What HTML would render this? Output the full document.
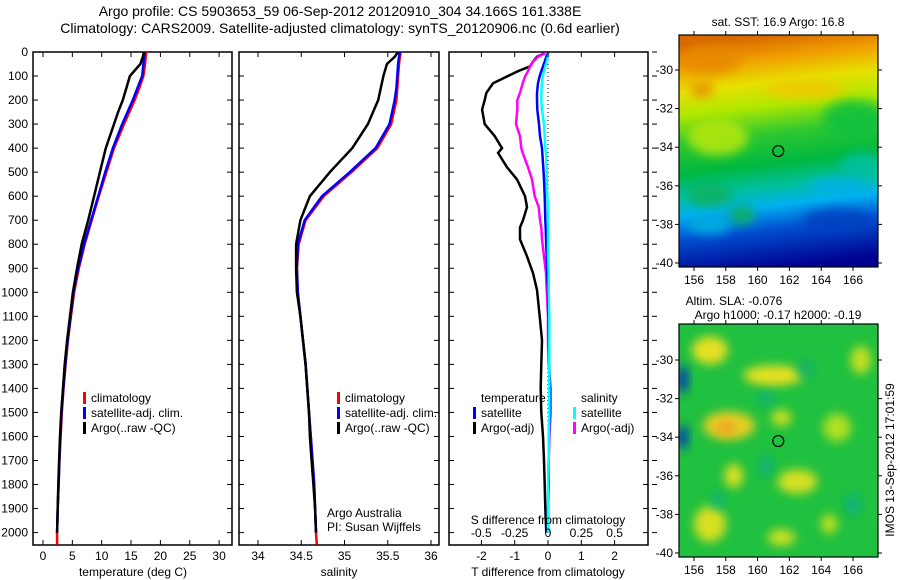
<!DOCTYPE html>
<html><head><meta charset="utf-8"><style>
body{margin:0;background:#fff;}
svg{display:block;font-family:"Liberation Sans",sans-serif;}
text{font-size:12px;fill:#000;}
text.big{font-size:14px;}
</style></head><body>
<svg id="c" width="900" height="580" viewBox="0 0 900 580" xmlns="http://www.w3.org/2000/svg">
<defs>
<clipPath id="cm1"><rect x="679" y="35" width="199" height="232"/></clipPath>
<clipPath id="cm2"><rect x="679" y="324" width="199" height="233"/></clipPath>
<linearGradient id="sstg" x1="0.45" y1="0" x2="0.55" y2="1">
<stop offset="0" stop-color="#d86a00"/><stop offset="0.1" stop-color="#f0a000"/>
<stop offset="0.2" stop-color="#e8e000"/><stop offset="0.3" stop-color="#b0e800"/>
<stop offset="0.42" stop-color="#30c830"/><stop offset="0.55" stop-color="#00b840"/>
<stop offset="0.65" stop-color="#00c0a0"/><stop offset="0.73" stop-color="#00b0f0"/>
<stop offset="0.83" stop-color="#0050d0"/><stop offset="1" stop-color="#000090"/>
</linearGradient>
<filter id="bl" x="-50%" y="-50%" width="200%" height="200%"><feGaussianBlur stdDeviation="5"/></filter>
</defs>
<g id="titles">
<text class="big" x="340" y="16" text-anchor="middle">Argo profile: CS 5903653_59 06-Sep-2012 20120910_304 34.166S 161.338E</text>
<text class="big" x="340" y="33" text-anchor="middle">Climatology: CARS2009. Satellite-adjusted climatology: synTS_20120906.nc (0.6d earlier)</text>
</g>
<g id="p1"></g><g id="p2"></g><g id="p3"></g><g id="maps"></g>
<text transform="translate(894,460) rotate(-90)" text-anchor="middle">IMOS 13-Sep-2012 17:01:59</text>
</svg>
<script>
const depths=[0,20,50,100,150,200,250,300,400,500,600,700,800,900,1000,1100,1200,1300,1400,1500,1600,1700,1800,1900,2000,2050];
const argoT=[17.2,17.0,16.6,14.8,14.2,13.6,12.8,12.1,10.7,9.7,8.7,7.7,6.6,5.8,5.1,4.6,4.1,3.7,3.4,3.1,2.9,2.75,2.6,2.5,2.4];
const satT=[17.3,17.2,17.1,16.9,16.1,15.3,14.4,13.5,11.9,10.6,9.4,8.2,7.0,6.0,5.2,4.7,4.2,3.8,3.45,3.15,2.95,2.8,2.65,2.5,2.4];
const climT=[17.6,17.5,17.4,17.1,16.4,15.6,14.7,13.8,12.1,10.8,9.5,8.3,7.1,6.1,5.3,4.75,4.25,3.85,3.5,3.2,3.0,2.8,2.65,2.5,2.4,2.4];
const argoS=[35.62,35.58,35.49,35.45,35.42,35.39,35.33,35.27,35.09,34.83,34.6,34.49,34.44,34.44,34.45,34.49,34.52,34.55,34.57,34.59,34.6,34.62,34.64,34.66,34.67];
const satS=[35.64,35.63,35.62,35.61,35.6,35.58,35.55,35.52,35.36,35.06,34.74,34.54,34.46,34.45,34.46,34.49,34.52,34.55,34.57,34.59,34.61,34.63,34.65,34.66,34.67];
const climS=[35.65,35.64,35.63,35.62,35.61,35.6,35.57,35.54,35.38,35.08,34.76,34.55,34.47,34.45,34.46,34.49,34.52,34.55,34.57,34.59,34.61,34.63,34.65,34.66,34.67,34.68];
const depths3=[5,20,40,60,80,100,130,170,200,240,300,350,400,420,480,530,600,645,700,730,780,850,920,990,1100,1200,1300,1400,1500,1600,1700,1800,1900,2000];
const argoTd=[-0.1,-0.33,-0.45,-0.54,-0.9,-1.2,-1.65,-1.85,-1.9,-1.98,-1.9,-1.6,-1.38,-1.5,-1.23,-0.93,-0.69,-0.63,-0.75,-0.84,-0.84,-0.63,-0.45,-0.33,-0.25,-0.18,-0.2,-0.22,-0.2,-0.15,-0.12,-0.1,-0.08,-0.05];
const argoSd=[-0.02,-0.075,-0.11,-0.135,-0.15,-0.17,-0.19,-0.21,-0.23,-0.23,-0.24,-0.21,-0.2,-0.19,-0.15,-0.12,-0.1,-0.07,-0.06,-0.05,-0.045,-0.03,-0.015,-0.01,0,0,0.005,0.02,0.02,0.01,0.005,0.005,0,0];
const satTd=[0,-0.05,-0.1,-0.15,-0.2,-0.25,-0.3,-0.33,-0.33,-0.32,-0.27,-0.24,-0.18,-0.17,-0.14,-0.12,-0.1,-0.09,-0.08,-0.07,-0.06,-0.04,-0.02,0,0.02,0.03,0.04,0.05,0.05,0.03,0.02,0.01,0,0];
const satSd=[0.005,0,-0.01,-0.02,-0.03,-0.04,-0.045,-0.05,-0.05,-0.045,-0.03,-0.025,-0.02,-0.015,-0.01,-0.01,-0.005,0,0,0,0,0,0.005,0.005,0.01,0.01,0.01,0.01,0.01,0.005,0.005,0,0,0];
const depthTicks=[0,100,200,300,400,500,600,700,800,900,1000,1100,1200,1300,1400,1500,1600,1700,1800,1900,2000];
const tempTicks=[0,5,10,15,20,25,30];
const salTicks=[34,34.5,35,35.5,36];
const tdTicks=[-2,-1,0,1,2];
const sdTicks=[-0.5,-0.25,0,0.25,0.5];
const sdTickLabels=["-0.5","-0.25","0","0.25","0.5"];

const NS="http://www.w3.org/2000/svg";
function mk(parent,tag,attrs,txt){const e=document.createElementNS(NS,tag);for(const k in attrs)e.setAttribute(k,attrs[k]);if(txt!==undefined)e.textContent=txt;parent.appendChild(e);return e;}
const TOP=52,BOT=545;
const yD=d=>TOP+d*0.2403;
const xT=t=>43+t*5.87;
const xS=s=>258+(s-34)*86.5;
const xTd=t=>548+t*33.3;
const xSd=s=>548+s*133.3;

function frame(g,x0,x1){
  const r=mk(g,'rect',{x:x0,y:TOP,width:x1-x0,height:BOT-TOP,fill:'none',stroke:'#000','stroke-width':1.5});
  
  
  depthTicks.forEach(d=>{
    const t=mk(g,'line',{x1:x0,x2:x0+5,y1:yD(d),y2:yD(d),stroke:'#000'});
    
    
    const t2=mk(g,'line',{x1:x1,x2:x1-5,y1:yD(d),y2:yD(d),stroke:'#000'});
    
    
  });
}
function line(g,xs,ds,fx,color,name,w){
  const pts=xs.map((v,i)=>fx(v).toFixed(1)+','+yD(ds[i]).toFixed(1)).join(' ');
  const p=mk(g,'polyline',{points:pts,fill:'none',stroke:color,'stroke-width':w||2.5});
  
  
}
function xticks(g,ticks,labels,fx,y,name){
  ticks.forEach((t,i)=>{
    const x=fx(t);
    const a=mk(g,'line',{x1:x,x2:x,y1:BOT,y2:BOT-5,stroke:'#000'});
    
    
    const b=mk(g,'line',{x1:x,x2:x,y1:TOP,y2:TOP+5,stroke:'#000'});
    
    
    const l=mk(g,'text',{x:x,y:y,'text-anchor':'middle'},labels[i]);
    
    
  });
}
function legend(g,x,y,items){
  items.forEach((it,i)=>{
    const m=mk(g,'rect',{x:x,y:y+i*15-10,width:3,height:12,fill:it[0]});
    
    
    const t=mk(g,'text',{x:x+8,y:y+i*15},it[1]);
    
    
  });
}
function txt(g,x,y,s,name,anchor){const t=mk(g,'text',{x:x,y:y,'text-anchor':anchor||'start'},s);
  
  }

// Panel 1
const p1=document.getElementById('p1');


frame(p1,33,232);
depthTicks.forEach(d=>txt(p1,28,yD(d)+4,String(d),'depth-tick-label','end'));
line(p1,climT,depths,xT,'#ff0000','climatology-temperature-line');
line(p1,satT,depths,xT,'#0000ff','satellite-temperature-line');
line(p1,argoT,depths,xT,'#000','argo-temperature-line');
xticks(p1,tempTicks,tempTicks.map(String),xT,560,'temperature');
txt(p1,133,576,'temperature (deg C)','x-axis-title-temperature','middle');
legend(p1,83,402,[['#ff0000','climatology'],['#0000ff','satellite-adj. clim.'],['#000','Argo(..raw -QC)']]);

// Panel 2
const p2=document.getElementById('p2');


frame(p2,239,439);
line(p2,climS,depths,xS,'#ff0000','climatology-salinity-line');
line(p2,satS,depths,xS,'#0000ff','satellite-salinity-line');
line(p2,argoS,depths.slice(0,argoS.length),xS,'#000','argo-salinity-line');
xticks(p2,salTicks,salTicks.map(String),xS,560,'salinity');
txt(p2,339,576,'salinity','x-axis-title-salinity','middle');
legend(p2,337,402,[['#ff0000','climatology'],['#0000ff','satellite-adj. clim.'],['#000','Argo(..raw -QC)']]);
txt(p2,327,517,'Argo Australia','credit-argo-australia');
txt(p2,327,531,'PI: Susan Wijffels','credit-pi');

// Panel 3
const p3=document.getElementById('p3');


frame(p3,449,648);
depthTicks.forEach(d=>{const t=mk(p3,'line',{x1:652,x2:657,y1:yD(d),y2:yD(d),stroke:'#000'});
  
  });
const z=mk(p3,'line',{x1:548,x2:548,y1:TOP,y2:BOT,stroke:'#000','stroke-dasharray':'1,3'});


line(p3,argoTd,depths3,xTd,'#000','argo-temperature-difference-line');
line(p3,argoSd,depths3,xSd,'#ff00ff','argo-salinity-difference-line');
line(p3,satTd,depths3,xTd,'#0000ff','satellite-temperature-difference-line');
line(p3,satSd,depths3,xSd,'#00ffff','satellite-salinity-difference-line');
xticks(p3,tdTicks,tdTicks.map(String),xTd,560,'t-difference');
sdTicks.forEach((s,i)=>txt(p3,xSd(s),537,sdTickLabels[i],'s-difference-tick-label','middle'));
txt(p3,548,524,'S difference from climatology','s-difference-axis-title','middle');
txt(p3,548,576,'T difference from climatology','x-axis-title-t-difference','middle');
txt(p3,481,402,'temperature','legend-title-temperature');
txt(p3,581,402,'salinity','legend-title-salinity');
legend(p3,473,417,[['#0000ff','satellite'],['#000','Argo(-adj)']]);
legend(p3,573,417,[['#00ffff','satellite'],['#ff00ff','Argo(-adj)']]);

// Maps
const lonX=l=>694+(l-156)*15.9;
const lonTicks=[156,158,160,162,164,166];
const latTicks=[-30,-32,-34,-36,-38,-40];
const argoLon=161.3, argoLat=-34.2;
const maps=document.getElementById('maps');
function mapAxes(g,y0,y1,latY){
  const r=mk(g,'rect',{x:679,y:y0,width:199,height:y1-y0,fill:'none',stroke:'#000','stroke-width':1.2});
  
  
  lonTicks.forEach(l=>{
    mk(g,'line',{x1:lonX(l),x2:lonX(l),y1:y1+4,y2:y1,stroke:'#000'});
    mk(g,'line',{x1:lonX(l),x2:lonX(l),y1:y0-4,y2:y0,stroke:'#000'});
    txt(g,lonX(l),y1+17,String(l),'longitude-tick-label','middle');
  });
  latTicks.forEach(l=>{
    mk(g,'line',{x1:675,x2:679,y1:latY(l),y2:latY(l),stroke:'#000'});
    mk(g,'line',{x1:878,x2:882,y1:latY(l),y2:latY(l),stroke:'#000'});
    txt(g,673,latY(l)+4,String(l),'latitude-tick-label','end');
  });
  const c=mk(g,'circle',{cx:lonX(argoLon),cy:latY(argoLat),r:5.5,fill:'none',stroke:'#000','stroke-width':1.2});
  
  
}
// SST map
const m1=mk(maps,'g',{});


const lat1=l=>70+(-30-l)*19.3;
const g1=mk(m1,'g',{'clip-path':'url(#cm1)'});
mk(g1,'rect',{x:679,y:35,width:199,height:232,fill:'url(#sstg)'});
const sstBlobs=[[157,-29.5,30,14,'#e88a00'],[156.5,-31,12,8,'#e89000'],[163,-31,40,10,'#f0c800'],[166,-32.5,30,18,'#10c040'],[157.5,-33.5,30,18,'#b8e810'],[166.5,-35,22,14,'#00c0a0'],[165,-36,30,8,'#00b0e8'],[157,-36.5,22,12,'#10b060'],[159,-37.5,14,10,'#10b060'],[165,-37.8,34,12,'#0040c0'],[157,-38,22,10,'#00b0e0']];
sstBlobs.forEach(b=>mk(g1,'ellipse',{cx:lonX(b[0]),cy:lat1(b[1]),rx:b[2],ry:b[3],fill:b[4],filter:'url(#bl)',opacity:0.85}));
mapAxes(m1,35,267,lat1);
txt(m1,778,26,'sat. SST: 16.9 Argo: 16.8','sst-map-title','middle');
// SLA map
const m2=mk(maps,'g',{});


const lat2=l=>360+(-30-l)*19.3;
const g2=mk(m2,'g',{'clip-path':'url(#cm2)'});
mk(g2,'rect',{x:679,y:324,width:199,height:233,fill:'#20c040'});
const slaBlobs=[[157,-29.5,18,14,'#e8e020'],[161,-30.8,30,10,'#e8e020'],[158.2,-33.4,26,14,'#e8d020'],[158,-33.5,10,7,'#f0a020'],[161.5,-33,10,8,'#d0e020'],[158.5,-36,9,12,'#e0e020'],[162.5,-36.3,20,12,'#d8e020'],[157,-38.5,16,18,'#d8e020'],[165,-33.5,14,14,'#b0e020'],[166.5,-30,10,14,'#c8e020'],[161.5,-39.2,14,8,'#d0e020'],[164.5,-38.5,8,10,'#c0e020'],[160.5,-32,8,6,'#10b080'],[160.5,-35.5,6,10,'#10b080'],[157.5,-37.3,6,8,'#10b080'],[166,-37.5,8,10,'#10b080'],[163,-30.5,8,8,'#10b070'],[155.3,-31,5,14,'#0030c0'],[155.3,-34,5,12,'#0030c0']];
slaBlobs.forEach(b=>mk(g2,'ellipse',{cx:lonX(b[0]),cy:lat2(b[1]),rx:b[2],ry:b[3],fill:b[4],filter:'url(#bl)'}));
mapAxes(m2,324,557,lat2);
txt(m2,734,305,'Altim. SLA: -0.076','sla-map-title-1','middle');
txt(m2,778,319,'Argo h1000: -0.17 h2000: -0.19','sla-map-title-2','middle');
</script>
</body></html>
